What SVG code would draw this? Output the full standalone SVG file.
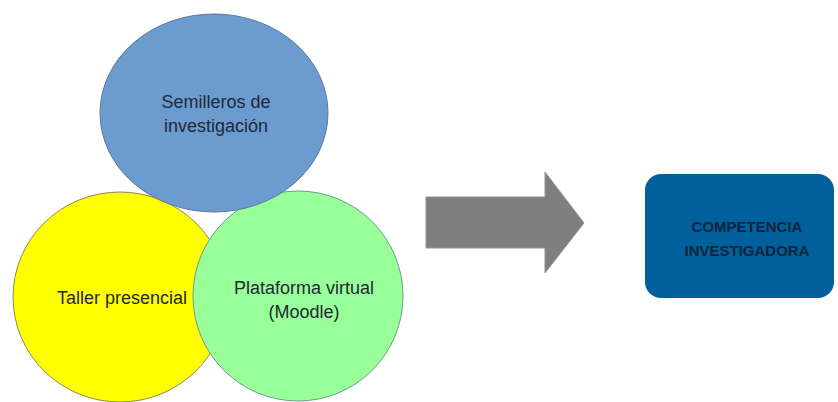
<svg xmlns="http://www.w3.org/2000/svg" width="838" height="402" viewBox="0 0 838 402">
<style>
.lbl{font-family:"Liberation Sans","DejaVu Sans",sans-serif;font-size:18px;fill:#1e2a36;text-anchor:middle}
.box{font-family:"Liberation Sans","DejaVu Sans",sans-serif;font-size:15px;font-weight:bold;fill:#14243a;text-anchor:middle}
</style>
<rect width="838" height="402" fill="#ffffff"/>
<g id="taller">
<ellipse cx="120" cy="297" rx="107" ry="105" fill="#ffff00" stroke="#8a8a50" stroke-width="1"/>
<text class="lbl" x="122" y="304">Taller presencial</text>
</g>
<g id="plataforma">
<ellipse cx="298" cy="296" rx="105" ry="105" fill="#99ff99" stroke="#6a9a8a" stroke-width="1"/>
<text class="lbl" x="304" y="294">Plataforma virtual</text>
<text class="lbl" x="304" y="318">(Moodle)</text>
</g>
<g id="semilleros">
<ellipse cx="214" cy="113" rx="114" ry="99" fill="#6c9bcf" stroke="#5a7a9a" stroke-width="1"/>
<text class="lbl" x="216" y="108">Semilleros de</text>
<text class="lbl" x="216" y="132">investigación</text>
</g>
<g id="connectors">
<polygon points="426,197 545,197 545,172 584,223 545,273 545,248 426,248" fill="#7f7f7f" stroke="#8c96a0" stroke-width="1"/>
</g>
<g id="competencia">
<rect x="645" y="174" width="189" height="124" rx="16" ry="16" fill="#00609c"/>
<text class="box" x="747" y="232">COMPETENCIA</text>
<text class="box" x="747" y="256">INVESTIGADORA</text>
</g>
</svg>
